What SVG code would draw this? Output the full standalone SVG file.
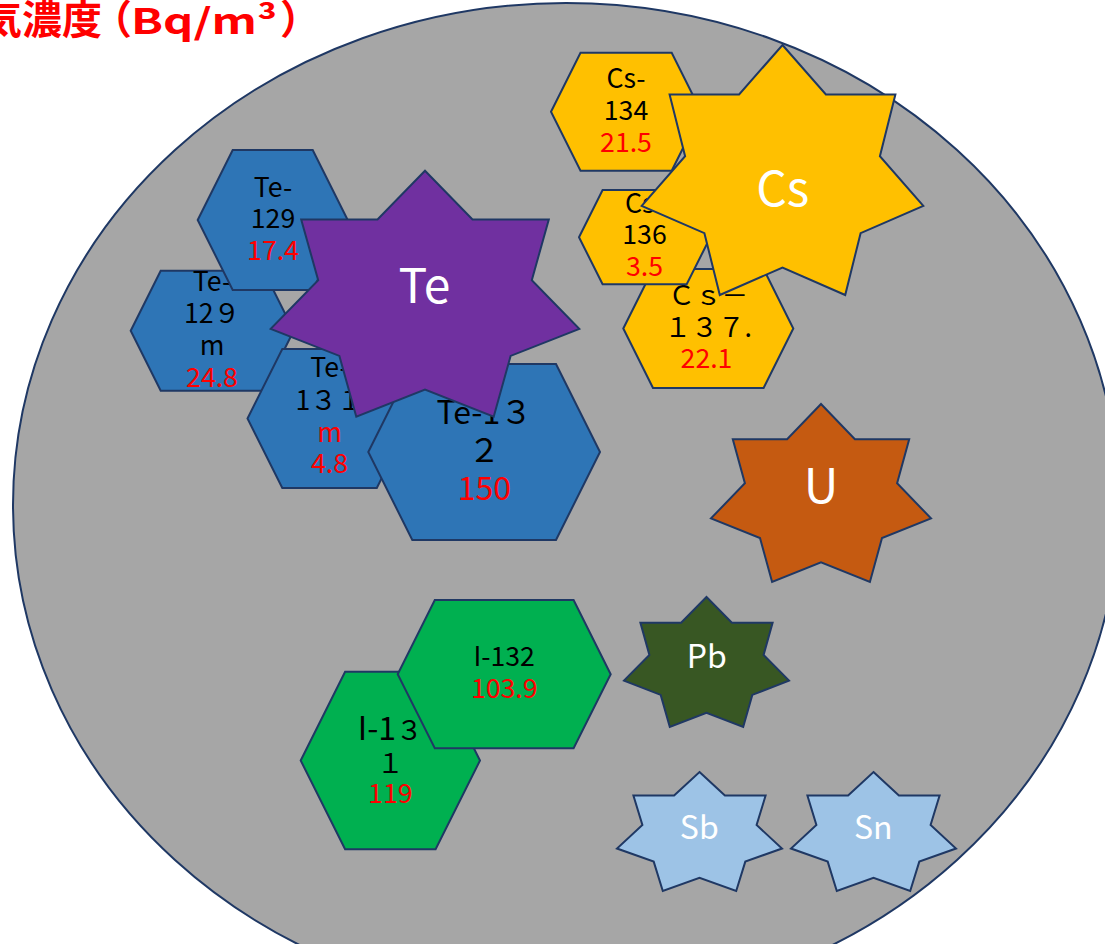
<svg xmlns="http://www.w3.org/2000/svg" width="1105" height="944" viewBox="0 0 1105 944">
<style>
  .sh { stroke: #1F3864; stroke-width: 2; stroke-linejoin: miter; }
  .te { fill: #2E75B6; }
  .cs { fill: #FFC000; }
  .io { fill: #00B050; }
  .t { font-family: "Noto Sans CJK JP", "Noto Sans", sans-serif; font-size: 26.67px; text-anchor: middle; fill: #000000; }
  .lg { font-size: 32px; }
  .sm { font-size: 26.67px; }
  .r { fill: #FF0000; }
  .w { fill: #FFFFFF; }
  .s48 { font-size: 48px; }
  .title { font-family: "Noto Sans CJK JP", "Noto Sans", sans-serif; font-size: 40px; font-weight: 700; fill: #FF0000; }
</style>
<rect x="0" y="0" width="1105" height="944" fill="#FFFFFF"/>
<g id="background">
  <ellipse cx="566" cy="505" rx="553" ry="502" fill="#A6A6A6" class="sh"/>
</g>
<g id="connectors"/>
<g id="te129m">
  <polygon class="sh te" points="130.7,330.7 160.7,270.7 263.7,270.7 293.7,330.7 263.7,390.7 160.7,390.7"/>
  <text class="t" x="212" y="290.7">Te-</text>
  <text class="t" x="212" y="323.3">12９</text>
  <text class="t" x="212" y="355">m</text>
  <text class="t r" x="212" y="386.7">24.8</text>
</g>
<g id="te129">
  <polygon class="sh te" points="197.7,220 232.7,150 312.7,150 347.7,220 312.7,290 232.7,290"/>
  <text class="t" x="273" y="196.7">Te-</text>
  <text class="t" x="273" y="228.3">129</text>
  <text class="t r" x="273" y="260">17.4</text>
</g>
<g id="te131m">
  <polygon class="sh te" points="247.5,418.5 282.3,349 376.8,349 411.5,418.5 376.8,488 282.3,488"/>
  <text class="t" x="329.5" y="377.3">Te-</text>
  <text class="t" x="329.5" y="410">1３１</text>
  <text class="t r" x="329.5" y="441.7">m</text>
  <text class="t r" x="329.5" y="473.3">4.8</text>
</g>
<g id="te132">
  <polygon class="sh te" points="368.3,452 412.3,364 556,364 600,452 556,540 412.3,540"/>
  <text class="t lg" x="484.3" y="424">Te-1３</text>
  <text class="t lg" x="484.3" y="461.7">２</text>
  <text class="t lg r" x="484.3" y="500">150</text>
</g>
<g id="te">
  <polygon class="sh" fill="#7030A0" points="425,170.7 472.5,219.4 548.8,219.4 531.8,280.2 579.3,328.9 510.6,355.9 493.7,416.7 425,389.6 356.3,416.7 339.4,355.9 270.7,328.9 318.2,280.2 301.2,219.4 377.5,219.4"/>
  <text class="t w s48" x="424.5" y="302.7">Te</text>
</g>
<g id="cs137">
  <polygon class="sh cs" points="623.3,328.5 653,269 763.6,269 793.3,328.5 763.6,388 653,388"/>
  <text class="t" x="708.3" y="305">Ｃｓ－</text>
  <text class="t" x="708.3" y="336.7">１３７.</text>
  <text class="t r" x="706.5" y="368.3">22.1</text>
</g>
<g id="cs136">
  <polygon class="sh cs" points="579,237.2 602.6,190 686.7,190 710.3,237.2 686.7,284.3 602.6,284.3"/>
  <text class="t" x="644.5" y="212.7">Cs-</text>
  <text class="t" x="644.5" y="244.3">136</text>
  <text class="t r" x="644.5" y="276">3.5</text>
</g>
<g id="cs134">
  <polygon class="sh cs" points="551,111.7 580.5,52.7 671.7,52.7 701.2,111.7 671.7,170.7 580.5,170.7"/>
  <text class="t" x="626" y="88.3">Cs-</text>
  <text class="t" x="626" y="120">134</text>
  <text class="t r" x="626" y="151.7">21.5</text>
</g>
<g id="cs">
  <polygon class="sh" fill="#FFC000" points="782.5,45 825.9,94.5 895.4,94.5 879.9,156.2 923.3,205.8 860.6,233.2 845.2,295 782.5,267.5 719.8,295 704.4,233.2 641.7,205.8 685.1,156.2 669.6,94.5 739.1,94.5"/>
  <text class="t w s48" x="782.7" y="205.7">Cs</text>
</g>
<g id="u">
  <polygon class="sh" fill="#C55A11" points="821,404 854.9,439.2 909.2,439.2 897.1,483.2 931,518.4 882,538 869.9,581.9 821,562.4 772.1,581.9 760,538 711,518.4 744.9,483.2 732.8,439.2 787.1,439.2"/>
  <text class="t w s48" x="821" y="503.3">U</text>
</g>
<g id="i131">
  <polygon class="sh io" points="300.7,760.5 345.1,671.7 435.6,671.7 480,760.5 435.6,849.3 345.1,849.3"/>
  <text class="t" x="390.3" y="740"><tspan class="lg">I-1</tspan><tspan class="sm">３</tspan></text>
  <text class="t" x="390.3" y="772.7">１</text>
  <text class="t r" x="390.3" y="803.3">119</text>
</g>
<g id="i132">
  <polygon class="sh io" points="397.7,674.2 434.8,600 573.6,600 610.7,674.2 573.6,748.3 434.8,748.3"/>
  <text class="t" x="504.2" y="666">I-132</text>
  <text class="t r" x="504.2" y="698.3">103.9</text>
</g>
<g id="pb">
  <polygon class="sh" fill="#385723" points="706.5,597 731.9,622.8 772.6,622.8 763.6,654.9 789,680.6 752.3,694.9 743.2,727 706.5,712.7 669.8,727 660.7,694.9 624,680.6 649.4,654.9 640.4,622.8 681.1,622.8"/>
  <text class="t w lg" x="706.7" y="667.7">Pb</text>
</g>
<g id="sb">
  <polygon class="sh" fill="#9DC3E6" points="699.5,772 724.9,795.6 765.6,795.6 756.6,825 782,848.5 745.3,861.6 736.2,891 699.5,877.9 662.8,891 653.7,861.6 617,848.5 642.4,825 633.4,795.6 674.1,795.6"/>
  <text class="t w lg" x="699.3" y="839">Sb</text>
</g>
<g id="sn">
  <polygon class="sh" fill="#9DC3E6" points="873.5,772 898.9,795.6 939.6,795.6 930.6,825 956,848.5 919.3,861.6 910.2,891 873.5,877.9 836.8,891 827.7,861.6 791,848.5 816.4,825 807.4,795.6 848.1,795.6"/>
  <text class="t w lg" x="873.3" y="839">Sn</text>
</g>
<g id="title">
  <text class="title" y="34"><tspan x="-58">大気濃度</tspan><tspan x="92">（</tspan><tspan x="131" textLength="146" lengthAdjust="spacingAndGlyphs" style="font-size:35px">Bq/m³</tspan><tspan x="280">）</tspan></text>
</g>
</svg>
